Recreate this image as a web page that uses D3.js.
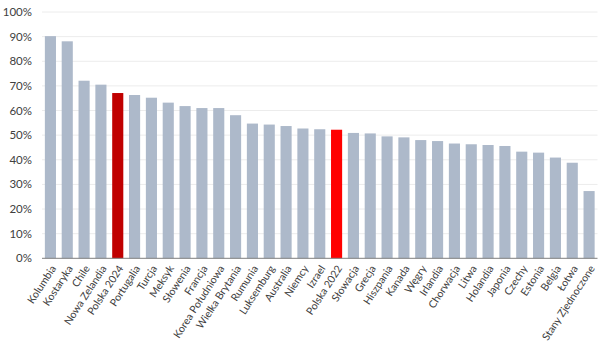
<!DOCTYPE html>
<html><head><meta charset="utf-8">
<script src="https://cdn.jsdelivr.net/npm/d3@7"></script>
<style>body{margin:0;background:#fff}svg{display:block}</style>
</head><body>
<script>
const categories = ["Kolumbia","Kostaryka","Chile","Nowa Zelandia","Polska 2024","Portugalia","Turcja","Meksyk","Słowenia","Francja","Korea Południowa","Wielka Brytania","Rumunia","Luksemburg","Australia","Niemcy","Izrael","Polska 2022","Słowacja","Grecja","Hiszpania","Kanada","Węgry","Irlandia","Chorwacja","Litwa","Holandia","Japonia","Czechy","Estonia","Belgia","Łotwa","Stany Zjednoczone"];
const values = [90.2,88.1,72.1,70.5,67.1,66.3,65.2,63.2,61.8,61.0,61.0,58.1,54.7,54.3,53.7,52.7,52.4,52.2,50.9,50.7,49.5,49.1,48.0,47.6,46.6,46.3,46.0,45.6,43.3,42.9,40.9,38.8,27.3];
const highlight = {"Polska 2024":"#c00000","Polska 2022":"#ff0000"};
const yTicks = [0,10,20,30,40,50,60,70,80,90,100];

const W=605,H=345;
const svg=d3.select("body").append("svg").attr("width",W).attr("height",H);
const x=d3.scaleBand().domain(categories).range([42,597.5]).paddingInner(0.34).paddingOuter(0.17);
const y=d3.scaleLinear().domain([0,100]).range([258.3,12]);
const font="Lato, 'Open Sans', sans-serif";

svg.append("g").selectAll("line").data(yTicks.filter(d=>d>0)).join("line")
  .attr("x1",42).attr("x2",597.5).attr("y1",d=>y(d)).attr("y2",d=>y(d))
  .attr("stroke","#ececec").attr("stroke-width",1);

svg.append("g").selectAll("text").data(yTicks).join("text")
  .attr("x",32).attr("y",d=>y(d)).attr("dy","0.35em").attr("text-anchor","end")
  .attr("font-family",font).attr("font-size",11.5).attr("fill","#404040")
  .text(d=>d+"%");

svg.append("g").selectAll("rect").data(categories).join("rect")
  .attr("x",d=>x(d)).attr("width",x.bandwidth())
  .attr("y",(d,i)=>y(values[i])).attr("height",(d,i)=>y(0)-y(values[i]))
  .attr("fill",d=>highlight[d]||"#adb9ca");

svg.append("line").attr("x1",42).attr("x2",597.5).attr("y1",y(0)).attr("y2",y(0))
  .attr("stroke","#7f7f7f").attr("stroke-width",1);

svg.append("g").selectAll("text").data(categories).join("text")
  .attr("transform",d=>`translate(${x(d)+x.bandwidth()/2+3},${y(0)+8}) rotate(-57)`)
  .attr("text-anchor","end").attr("dy","0.35em")
  .attr("font-family",font).attr("font-size",10.5).attr("fill","#404040")
  .text(d=>d);
</script>
</body></html>
